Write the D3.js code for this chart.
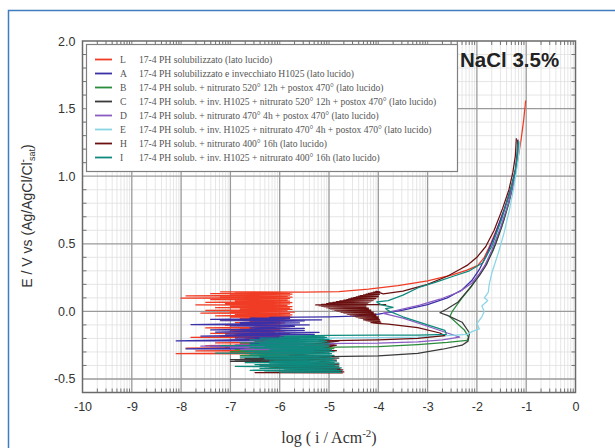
<!DOCTYPE html>
<html><head><meta charset="utf-8">
<script src="https://cdn.jsdelivr.net/npm/d3@7"></script>
<style>html,body{margin:0;padding:0;background:#fff;} svg{display:block}</style>
</head><body><svg id="c" width="615" height="448"></svg>
<script>
// ---------- data ----------
const xTickValues = [-10,-9,-8,-7,-6,-5,-4,-3,-2,-1,0];
const yTickValues = [-0.5,0.0,0.5,1.0,1.5,2.0];
const seriesKeys = ["L","A","B","C","D","E","H","I"];
const seriesLabels = [
  "17-4 PH solubilizzato (lato lucido)",
  "17-4 PH solubilizzato e invecchiato H1025 (lato lucido)",
  "17-4 PH solub. + nitrurato 520° 12h + postox 470° (lato lucido)",
  "17-4 PH solub. + inv. H1025 + nitrurato 520° 12h + postox 470° (lato lucido)",
  "17-4 PH solub. + nitrurato 470° 4h + postox 470° (lato lucido)",
  "17-4 PH solub. + inv. H1025 + nitrurato 470° 4h + postox 470° (lato lucido)",
  "17-4 PH solub. + nitrurato 400° 16h (lato lucido)",
  "17-4 PH solub. + inv. H1025 + nitrurato 400° 16h (lato lucido)"
];
// noisy low-current part: rows of [E, log i at left end, log i at right end]
const noiseL = [[-0.325,-6.2,-5.3],[-0.315,-8.1,-5.5],[-0.305,-7.0,-5.6],[-0.295,-7.7,-5.5],[-0.285,-6.6,-5.7],[-0.275,-7.9,-5.4],[-0.265,-7.1,-5.8],[-0.255,-7.5,-5.6],[-0.245,-6.8,-5.9],[-0.235,-7.3,-5.7],[-0.225,-6.5,-5.5],[-0.215,-7.0,-5.8],[-0.205,-6.7,-6.0],[-0.195,-7.8,-5.6],[-0.185,-7.2,-5.9],[-0.175,-6.9,-6.0],[-0.165,-7.4,-5.8],[-0.155,-6.6,-6.1],[-0.145,-7.0,-5.9],[-0.135,-6.8,-6.0],[-0.125,-7.5,-5.8],[-0.115,-6.5,-6.1],[-0.105,-7.1,-5.9],[-0.095,-6.7,-6.0],[-0.085,-6.9,-5.9],[-0.075,-6.6,-6.0],[-0.065,-7.2,-5.8],[-0.055,-6.8,-5.9],[-0.045,-7.0,-5.75],[-0.035,-7.3,-5.8],[-0.025,-6.9,-5.75],[-0.015,-7.6,-5.8],[-0.005,-7.0,-5.7],[0.005,-7.5,-5.85],[0.015,-6.8,-5.75],[0.025,-7.3,-5.8],[0.035,-7.0,-5.75],[0.045,-7.7,-5.85],[0.055,-7.1,-5.8],[0.065,-7.5,-5.75],[0.075,-6.9,-5.8],[0.085,-7.4,-5.85],[0.095,-8.0,-5.8],[0.105,-7.2,-5.75],[0.112,-7.9,-5.85],[0.12,-7.0,-5.8],[0.128,-7.4,-5.75],[0.136,-6.9,-5.8],[0.142,-7.2,-5.7]];
const noiseA = [[-0.3,-6.5,-5.3],[-0.28,-7.9,-5.4],[-0.26,-7.4,-5.3],[-0.24,-6.6,-5.2],[-0.22,-8.1,-5.3],[-0.2,-6.9,-5.6],[-0.185,-7.6,-5.4],[-0.17,-7.1,-5.3],[-0.155,-7.3,-5.2],[-0.14,-7.4,-5.5],[-0.125,-6.6,-5.5],[-0.11,-7.0,-5.7],[-0.1,-7.8,-5.4],[-0.085,-6.8,-5.6],[-0.07,-7.2,-5.5],[-0.062,-7.4,-5.15],[-0.052,-6.6,-5.8],[-0.046,-6.2,-5.9]];
const noiseB = [[-0.42,-6.2,-4.8],[-0.4,-6.0,-4.9],[-0.38,-6.6,-4.9],[-0.35,-6.4,-5.0],[-0.33,-6.8,-5.0],[-0.3,-7.0,-5.1],[-0.29,-6.8,-5.2],[-0.285,-6.9,-5.0],[-0.28,-6.5,-4.95],[-0.275,-6.7,-4.9]];
const noiseC = [[-0.44,-6.0,-4.9],[-0.42,-5.8,-5.0],[-0.4,-6.4,-5.0],[-0.38,-6.2,-5.2],[-0.372,-7.0,-5.4],[-0.366,-6.9,-5.5],[-0.36,-7.0,-5.3],[-0.355,-6.8,-5.5],[-0.35,-6.7,-5.2],[-0.345,-6.4,-4.8]];
const noiseD = [[-0.3,-6.2,-5.0],[-0.285,-6.8,-5.2],[-0.27,-7.0,-5.3],[-0.26,-7.6,-5.2],[-0.25,-6.9,-5.3],[-0.245,-6.4,-4.9]];
const noiseE = [[-0.225,-5.8,-4.9],[-0.21,-5.6,-4.95],[-0.2,-5.5,-4.9]];
const noiseH = [[-0.455,-6.5,-4.72],[-0.448,-5.5,-4.7],[-0.44,-6.0,-4.75],[-0.432,-5.3,-4.72],[-0.424,-6.3,-4.78],[-0.41,-5.2,-4.8],[-0.39,-5.6,-4.8],[-0.36,-5.4,-4.85],[-0.33,-5.8,-4.9],[-0.29,-5.3,-4.85],[-0.25,-5.5,-4.85],[-0.22,-5.2,-4.8]];
const noiseH2 = [[-0.09,-4.1,-3.95],[-0.085,-4.15,-3.98],[-0.08,-4.12,-3.95],[-0.075,-4.2,-4.0],[-0.07,-4.25,-3.97],[-0.065,-4.3,-4.0],[-0.06,-4.28,-3.98],[-0.055,-4.35,-4.02],[-0.05,-4.4,-4.0],[-0.045,-4.45,-4.03],[-0.04,-4.47,-4.0],[-0.035,-4.52,-4.05],[-0.03,-4.57,-4.05],[-0.025,-4.62,-4.08],[-0.02,-4.64,-4.05],[-0.015,-4.7,-4.1],[-0.01,-4.75,-4.12],[-0.005,-4.78,-4.1],[0.0,-4.84,-4.15],[0.005,-4.88,-4.17],[0.01,-4.93,-4.15],[0.015,-4.97,-4.2],[0.02,-5.0,-4.22],[0.025,-5.05,-4.2],[0.03,-5.1,-4.25],[0.035,-5.15,-4.28],[0.04,-5.2,-4.25],[0.045,-5.27,-4.3],[0.05,-5.15,-3.85],[0.055,-5.05,-4.25],[0.06,-5.0,-4.22],[0.065,-4.92,-4.2],[0.07,-4.85,-4.17],[0.075,-4.78,-4.15],[0.08,-4.7,-4.12],[0.085,-4.64,-4.1],[0.09,-4.6,-4.08],[0.095,-4.55,-4.05],[0.1,-4.5,-4.05],[0.105,-4.45,-4.02],[0.11,-4.4,-4.0],[0.115,-4.36,-4.02],[0.12,-4.3,-4.0],[0.125,-4.25,-3.98],[0.13,-4.2,-4.0],[0.135,-4.15,-3.98],[0.14,-4.1,-4.0],[0.145,-4.05,-3.97]];
const noiseI = [[-0.452,-6.0,-4.75],[-0.445,-6.3,-4.8],[-0.438,-6.6,-4.75],[-0.431,-5.9,-4.85],[-0.424,-6.4,-4.8],[-0.417,-6.0,-4.75],[-0.41,-6.9,-4.85],[-0.403,-6.3,-4.8],[-0.396,-6.5,-4.9],[-0.389,-6.2,-4.85],[-0.382,-6.7,-4.8],[-0.375,-6.2,-4.9],[-0.368,-6.1,-4.85],[-0.361,-6.2,-4.9],[-0.354,-6.3,-4.95],[-0.347,-6.3,-4.9],[-0.34,-6.8,-5.0],[-0.333,-6.4,-4.95],[-0.326,-6.6,-4.9],[-0.319,-6.3,-5.0],[-0.312,-7.3,-4.95],[-0.305,-6.5,-5.0],[-0.298,-6.7,-4.9],[-0.291,-6.2,-5.0],[-0.284,-6.2,-4.95],[-0.277,-6.5,-5.0],[-0.27,-6.6,-5.05],[-0.263,-6.3,-5.0],[-0.256,-7.2,-5.05],[-0.249,-6.6,-5.0],[-0.242,-6.4,-5.1],[-0.235,-6.8,-5.0],[-0.228,-6.5,-5.1],[-0.221,-6.3,-5.05],[-0.214,-6.6,-5.1],[-0.207,-6.2,-5.0],[-0.2,-6.4,-5.1],[-0.193,-6.0,-5.05],[-0.186,-5.9,-5.1]];
// smooth part of each curve: [log i, E]
const tailL = [[-5.5,0.143],[-4.8,0.147],[-4.2,0.165],[-3.6,0.19],[-3.0,0.225],[-2.5,0.27],[-2.2,0.305],[-1.98,0.34],[-1.85,0.4],[-1.72,0.5],[-1.55,0.65],[-1.4,0.8],[-1.28,0.95],[-1.18,1.1],[-1.1,1.28],[-1.05,1.42],[-1.01,1.56]];
const tailA = [[-5.0,-0.04],[-4.5,-0.035],[-4.0,-0.02],[-3.8,-0.01],[-3.5,0.01],[-3.0,0.05],[-2.6,0.1],[-2.3,0.16],[-2.1,0.23],[-1.95,0.31],[-1.8,0.42],[-1.65,0.55],[-1.45,0.75],[-1.3,0.92],[-1.22,1.05],[-1.18,1.18],[-1.17,1.27]];
const tailB = [[-4.0,-0.26],[-3.2,-0.245],[-2.6,-0.23],[-2.2,-0.215],[-2.17,-0.19],[-2.25,-0.14],[-2.4,-0.09],[-2.55,-0.04],[-2.5,0.0],[-2.42,0.04],[-2.3,0.1],[-2.12,0.18],[-1.95,0.27],[-1.84,0.33],[-1.67,0.45],[-1.5,0.62],[-1.35,0.8],[-1.24,0.98],[-1.18,1.12],[-1.15,1.25]];
const tailC = [[-4.0,-0.33],[-3.2,-0.31],[-2.7,-0.28],[-2.3,-0.25],[-2.18,-0.22],[-2.15,-0.16],[-2.3,-0.08],[-2.6,-0.03],[-2.75,-0.01],[-2.6,0.02],[-2.38,0.07],[-2.15,0.17],[-1.94,0.27],[-1.8,0.35],[-1.62,0.5],[-1.45,0.68],[-1.3,0.88],[-1.22,1.02],[-1.18,1.15],[-1.17,1.27]];
const tailD = [[-4.0,-0.235],[-3.2,-0.225],[-2.7,-0.21],[-2.35,-0.19],[-2.6,-0.16],[-3.0,-0.11],[-3.5,-0.05],[-3.9,-0.015],[-3.6,0.01],[-3.16,0.047],[-2.75,0.09],[-2.35,0.145],[-2.1,0.21],[-1.95,0.28],[-1.84,0.34],[-1.7,0.45],[-1.52,0.62],[-1.36,0.8],[-1.24,0.98],[-1.18,1.12],[-1.16,1.24]];
const tailE = [[-4.0,-0.195],[-3.2,-0.19],[-2.6,-0.18],[-2.2,-0.17],[-2.1,-0.15],[-1.95,-0.13],[-2.0,-0.09],[-1.9,-0.04],[-1.85,0.0],[-1.9,0.04],[-1.78,0.08],[-1.85,0.1],[-1.77,0.14],[-1.75,0.2],[-1.7,0.28],[-1.63,0.36],[-1.55,0.45],[-1.45,0.58],[-1.34,0.75],[-1.25,0.92],[-1.18,1.08],[-1.14,1.2],[-1.13,1.26]];
const tailH1 = [[-4.0,-0.21],[-3.2,-0.2],[-2.65,-0.18],[-2.75,-0.16],[-3.2,-0.12],[-3.8,-0.095]];
const tailH2 = [[-3.9,0.13],[-3.5,0.15],[-3.0,0.2],[-2.6,0.26],[-2.35,0.31],[-2.2,0.34],[-2.0,0.4],[-1.82,0.48],[-1.65,0.6],[-1.48,0.76],[-1.35,0.9],[-1.27,1.03],[-1.22,1.15],[-1.2,1.28]];
const tailI = [[-5.0,-0.178],[-4.0,-0.176],[-3.2,-0.175],[-2.62,-0.17],[-2.65,-0.14],[-3.0,-0.1],[-3.5,-0.04],[-3.77,0.0],[-3.85,0.02],[-3.7,0.03],[-3.95,0.05],[-4.03,0.07],[-3.8,0.08],[-3.5,0.12],[-3.16,0.18],[-2.8,0.22],[-2.48,0.26],[-2.15,0.3],[-1.88,0.36],[-1.7,0.48],[-1.5,0.68],[-1.33,0.88],[-1.23,1.02],[-1.18,1.15],[-1.16,1.25]];
const seriesColors = ["#f03c24","#3a30a8","#2a8c3c","#3a3a3a","#8a5cc4","#8ad6e6","#6a1010","#0f8a7e"];
const annotation = "NaCl 3.5%";

// rows -> spikes (right end, then left end), followed by the smooth part
function rows(r){ const out=[]; r.forEach(([e,l,rt])=>{ out.push([rt,e]); out.push([l,e+0.0025]); }); return out; }
const seriesData = [
  rows(noiseL).concat(tailL),
  rows(noiseA).concat(tailA),
  rows(noiseB).concat(tailB),
  rows(noiseC).concat(tailC),
  rows(noiseD).concat(tailD),
  rows(noiseE).concat(tailE),
  rows(noiseH).concat(tailH1, rows(noiseH2), tailH2),
  rows(noiseI).concat(tailI)
];

// ---------- drawing ----------
const svg = d3.select("#c");
const x = d3.scaleLinear().domain([-10,0]).range([82.5,575.5]);
const y = d3.scaleLinear().domain([-0.6,2.0]).range([392.5,41]);

svg.append("rect").attr("x",8.5).attr("y",10.5).attr("width",700).attr("height",500)
  .attr("fill","none").attr("stroke","#3f7dc0").attr("stroke-width",1.5);

const g = svg.append("g");
const minorX = [];
for (let d=-10; d<0; d++) for (let k=2;k<=9;k++) minorX.push(d+Math.log10(k));
const minorY = d3.range(-6,21).map(v=>v/10).filter(v=>Math.abs(v*2-Math.round(v*2))>1e-6);
g.selectAll(".mx").data(minorX).join("line").attr("x1",d=>x(d)).attr("x2",d=>x(d))
  .attr("y1",y(-0.6)).attr("y2",y(2.0)).attr("stroke","#e0e0e0").attr("stroke-width",0.8);
g.selectAll(".my").data(minorY).join("line").attr("y1",d=>y(d)).attr("y2",d=>y(d))
  .attr("x1",x(-10)).attr("x2",x(0)).attr("stroke","#e0e0e0").attr("stroke-width",0.8);
g.selectAll(".Mx").data(xTickValues.slice(1,-1)).join("line").attr("x1",d=>x(d)).attr("x2",d=>x(d))
  .attr("y1",y(-0.6)).attr("y2",y(2.0)).attr("stroke","#9a9a9a").attr("stroke-width",1.3);
g.selectAll(".My").data(yTickValues.filter(v=>v<2)).join("line").attr("y1",d=>y(d)).attr("y2",d=>y(d))
  .attr("x1",x(-10)).attr("x2",x(0)).attr("stroke","#9a9a9a").attr("stroke-width",1.3);

const tk = svg.append("g").attr("stroke","#666").attr("stroke-width",0.9);
minorX.forEach(d=>{
  tk.append("line").attr("x1",x(d)).attr("x2",x(d)).attr("y1",y(-0.6)).attr("y2",y(-0.6)-4);
  tk.append("line").attr("x1",x(d)).attr("x2",x(d)).attr("y1",y(2.0)).attr("y2",y(2.0)+4);
});
minorY.forEach(d=>{
  tk.append("line").attr("y1",y(d)).attr("y2",y(d)).attr("x1",x(-10)).attr("x2",x(-10)+4);
  tk.append("line").attr("y1",y(d)).attr("y2",y(d)).attr("x1",x(0)).attr("x2",x(0)-4);
});

const line = d3.line().x(d=>x(d[0])).y(d=>y(d[1]));
const curves = svg.append("g");
seriesData.forEach((s,i)=>{
  curves.append("path").attr("d",line(s)).attr("fill","none")
    .attr("stroke",seriesColors[i]).attr("stroke-width",1.25).attr("stroke-linejoin","round");
});

svg.append("rect").attr("x",x(-10)).attr("y",y(2.0)).attr("width",x(0)-x(-10)).attr("height",y(-0.6)-y(2.0))
  .attr("fill","none").attr("stroke","#6a6a6a").attr("stroke-width",1.5);

const xAxis = d3.axisBottom(x).tickValues(xTickValues).tickSize(0).tickPadding(10).tickFormat(d=>String(d));
const xa = svg.append("g").attr("transform",`translate(0,${y(-0.6)})`).call(xAxis);
xa.select(".domain").remove();
xa.selectAll("text").attr("font-family","Liberation Sans, Arial, sans-serif").attr("font-size",12.5).attr("fill","#333");
const yAxis = d3.axisLeft(y).tickValues(yTickValues).tickSize(0).tickPadding(7).tickFormat(d=>d.toFixed(1));
const ya = svg.append("g").attr("transform",`translate(${x(-10)},0)`).call(yAxis);
ya.select(".domain").remove();
ya.selectAll("text").attr("font-family","Liberation Sans, Arial, sans-serif").attr("font-size",12.5).attr("fill","#333");

const xt = svg.append("text").attr("x",329).attr("y",443).attr("text-anchor","middle")
  .attr("font-family","Liberation Serif, Times New Roman, serif").attr("font-size",16).attr("fill","#333");
xt.append("tspan").text("log ( i / Acm");
xt.append("tspan").attr("dy",-6).attr("font-size",11).text("-2");
xt.append("tspan").attr("dy",6).text(")");

const yt = svg.append("text").attr("transform","translate(32,216) rotate(-90)").attr("text-anchor","middle")
  .attr("font-family","Liberation Sans, Arial, sans-serif").attr("font-size",14).attr("fill","#333");
yt.append("tspan").text("E / V vs (Ag/AgCl/Cl");
yt.append("tspan").attr("dy",-6).attr("font-size",10).text("-");
yt.append("tspan").attr("dy",9).attr("dx",-2).attr("font-size",9).text("sat");
yt.append("tspan").attr("dy",-3).text(")");

const lg = svg.append("g");
lg.append("rect").attr("x",86.5).attr("y",44.5).attr("width",371).attr("height",127)
  .attr("fill","#fff").attr("stroke","#808080").attr("stroke-width",1.2);
seriesKeys.forEach((k,i)=>{
  const yy = 59.5 + i*14;
  lg.append("line").attr("x1",95).attr("x2",112).attr("y1",yy).attr("y2",yy)
    .attr("stroke",seriesColors[i]).attr("stroke-width",1.8);
  lg.append("text").attr("x",120).attr("y",yy+3).attr("font-family","Liberation Serif, Times New Roman, serif")
    .attr("font-size",9.6).attr("fill","#555").text(k);
  lg.append("text").attr("x",139).attr("y",yy+3).attr("font-family","Liberation Serif, Times New Roman, serif")
    .attr("font-size",9.6).attr("fill","#555").text(seriesLabels[i]);
});

svg.append("text").attr("x",460).attr("y",67).attr("font-family","Liberation Sans, Arial, sans-serif")
  .attr("font-weight","bold").attr("font-size",20.5).attr("fill","#222").text(annotation);
</script></body></html>
